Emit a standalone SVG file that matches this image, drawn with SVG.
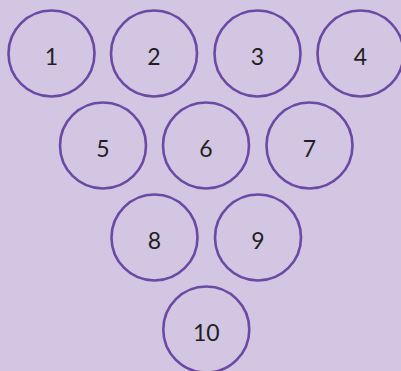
<svg xmlns="http://www.w3.org/2000/svg" width="401" height="371" viewBox="0 0 401 371">
<style>
.pin circle{fill:#d2c6e3;stroke:#6a4aa3;stroke-width:2.6}
.pin text{font-family:"Lato","Open Sans",sans-serif;font-size:23px;fill:#231f20;text-anchor:middle}
</style>
<rect width="401" height="371" fill="#d2c6e3"/>
<g id="connectors"></g>
<g id="pin1" class="pin"><circle cx="51.5" cy="53.5" r="43"/><text x="51.5" y="65">1</text></g>
<g id="pin2" class="pin"><circle cx="154" cy="53.5" r="43"/><text x="154" y="65">2</text></g>
<g id="pin3" class="pin"><circle cx="257.5" cy="53.5" r="43"/><text x="257.5" y="65">3</text></g>
<g id="pin4" class="pin"><circle cx="360.5" cy="53.5" r="43"/><text x="360.5" y="65">4</text></g>
<g id="pin5" class="pin"><circle cx="103" cy="145.5" r="43"/><text x="103" y="157">5</text></g>
<g id="pin6" class="pin"><circle cx="206" cy="145.5" r="43"/><text x="206" y="157">6</text></g>
<g id="pin7" class="pin"><circle cx="309.5" cy="145.5" r="43"/><text x="309.5" y="157">7</text></g>
<g id="pin8" class="pin"><circle cx="154.5" cy="237.5" r="43"/><text x="154.5" y="249">8</text></g>
<g id="pin9" class="pin"><circle cx="258" cy="237.5" r="43"/><text x="258" y="249">9</text></g>
<g id="pin10" class="pin"><circle cx="206.3" cy="329.5" r="43"/><text x="206.3" y="341">10</text></g>
</svg>
